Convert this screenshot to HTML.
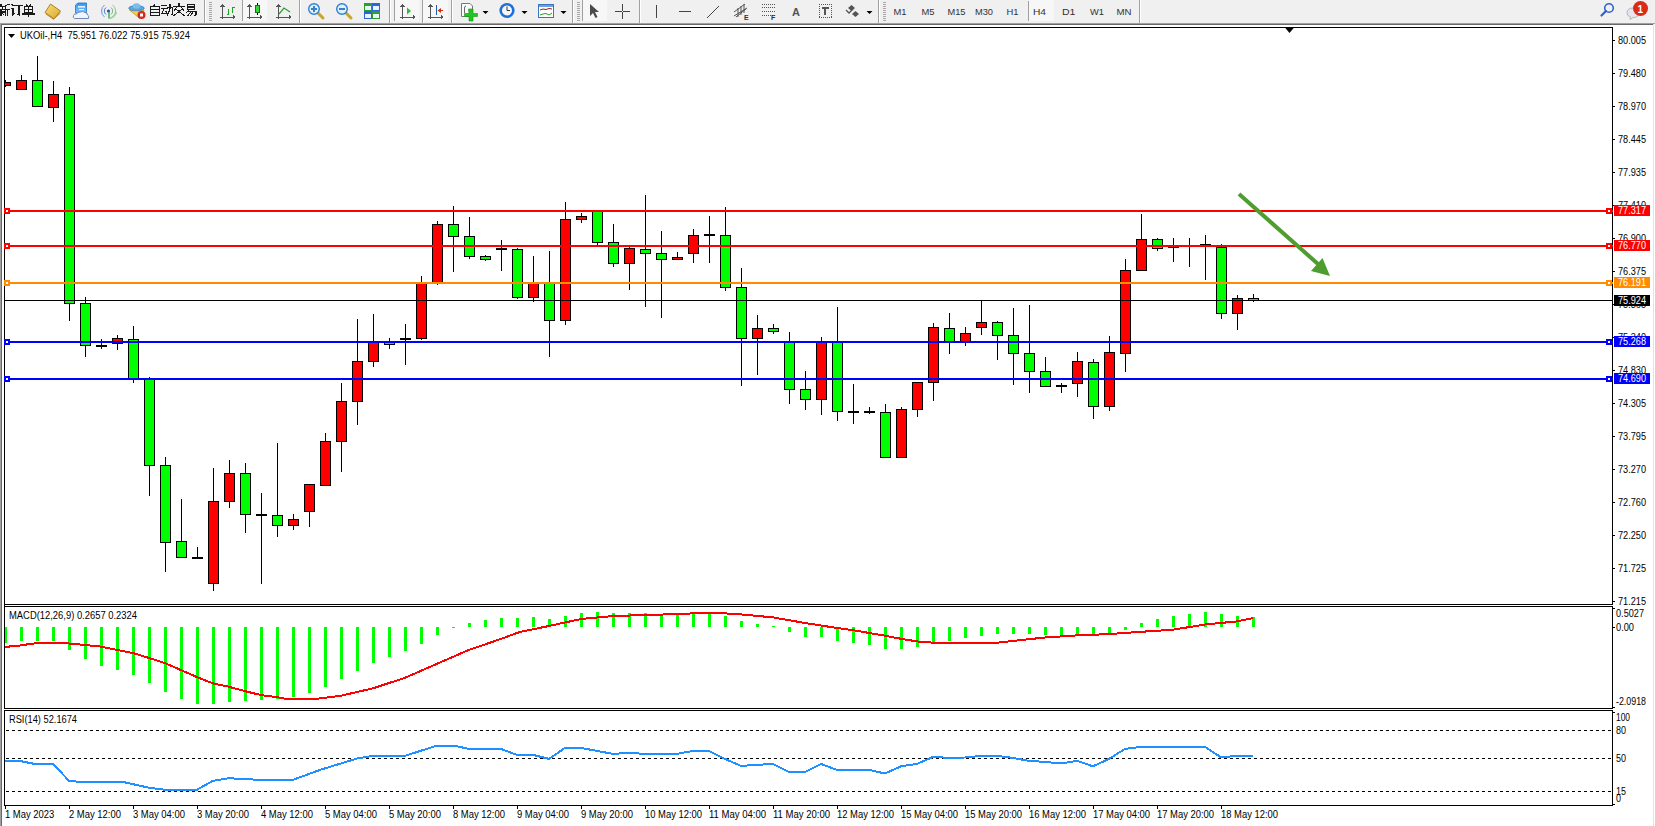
<!DOCTYPE html>
<html><head><meta charset="utf-8"><style>
html,body{margin:0;padding:0;}
body{width:1655px;height:826px;overflow:hidden;position:relative;background:#fff;font-family:"Liberation Sans",sans-serif;}
</style></head><body>
<svg width="1655" height="826" viewBox="0 0 1655 826" style="position:absolute;left:0;top:0;font-family:'Liberation Sans',sans-serif"><rect x="0" y="0" width="1655" height="23" fill="#F0F0F0"/><rect x="0" y="23" width="1655" height="1" fill="#A0A0A0"/><rect x="0" y="24" width="1653" height="1" fill="#696969"/><rect x="0" y="25" width="1655" height="801" fill="#FFFFFF"/><rect x="0" y="24" width="1" height="802" fill="#A0A0A0"/><rect x="1" y="24" width="1" height="802" fill="#696969"/><rect x="1653" y="24" width="1" height="802" fill="#E3E3E3"/><g shape-rendering="crispEdges"><rect x="4" y="27" width="1609" height="1" fill="#000"/><rect x="4" y="604" width="1609" height="1" fill="#000"/><rect x="4" y="606" width="1609" height="1" fill="#000"/><rect x="4" y="708" width="1609" height="1" fill="#000"/><rect x="4" y="710" width="1609" height="1" fill="#000"/><rect x="4" y="805" width="1609" height="1" fill="#000"/><rect x="4" y="27" width="1" height="579" fill="#000"/><rect x="4" y="606" width="1" height="103" fill="#000"/><rect x="4" y="710" width="1" height="96" fill="#000"/><rect x="1612" y="27" width="1" height="578" fill="#000"/><rect x="1612" y="606" width="1" height="103" fill="#000"/><rect x="1612" y="710" width="1" height="96" fill="#000"/><rect x="1613" y="608" width="2" height="1" fill="#000"/><rect x="1613" y="627" width="2" height="1" fill="#000"/><rect x="1613" y="707" width="2" height="1" fill="#000"/><rect x="1613" y="712" width="2" height="1" fill="#000"/><rect x="1613" y="804" width="2" height="1" fill="#000"/></g><polygon points="1284.5,27 1294.5,27 1289.5,33" fill="#000"/><g shape-rendering="crispEdges"><rect x="1613" y="40" width="2" height="1" fill="#000"/><rect x="1613" y="73" width="2" height="1" fill="#000"/><rect x="1613" y="106" width="2" height="1" fill="#000"/><rect x="1613" y="139" width="2" height="1" fill="#000"/><rect x="1613" y="172" width="2" height="1" fill="#000"/><rect x="1613" y="205" width="2" height="1" fill="#000"/><rect x="1613" y="238" width="2" height="1" fill="#000"/><rect x="1613" y="271" width="2" height="1" fill="#000"/><rect x="1613" y="304" width="2" height="1" fill="#000"/><rect x="1613" y="337" width="2" height="1" fill="#000"/><rect x="1613" y="370" width="2" height="1" fill="#000"/><rect x="1613" y="403" width="2" height="1" fill="#000"/><rect x="1613" y="436" width="2" height="1" fill="#000"/><rect x="1613" y="469" width="2" height="1" fill="#000"/><rect x="1613" y="502" width="2" height="1" fill="#000"/><rect x="1613" y="535" width="2" height="1" fill="#000"/><rect x="1613" y="568" width="2" height="1" fill="#000"/><rect x="1613" y="601" width="2" height="1" fill="#000"/><clipPath id="cm"><rect x="5" y="28" width="1607" height="576"/></clipPath><g clip-path="url(#cm)"><rect x="5" y="80" width="1" height="7" fill="#000"/><rect x="0" y="82" width="11" height="4" fill="#000"/><rect x="1" y="83" width="9" height="2" fill="#FF0000"/><rect x="21" y="75" width="1" height="15" fill="#000"/><rect x="16" y="80" width="11" height="10" fill="#000"/><rect x="17" y="81" width="9" height="8" fill="#FF0000"/><rect x="37" y="56" width="1" height="51" fill="#000"/><rect x="32" y="80" width="11" height="27" fill="#000"/><rect x="33" y="81" width="9" height="25" fill="#00FF00"/><rect x="53" y="81" width="1" height="41" fill="#000"/><rect x="48" y="94" width="11" height="14" fill="#000"/><rect x="49" y="95" width="9" height="12" fill="#FF0000"/><rect x="69" y="87" width="1" height="234" fill="#000"/><rect x="64" y="94" width="11" height="210" fill="#000"/><rect x="65" y="95" width="9" height="208" fill="#00FF00"/><rect x="85" y="297" width="1" height="60" fill="#000"/><rect x="80" y="303" width="11" height="43" fill="#000"/><rect x="81" y="304" width="9" height="41" fill="#00FF00"/><rect x="101" y="339" width="1" height="10" fill="#000"/><rect x="96" y="345" width="11" height="2" fill="#000"/><rect x="117" y="335" width="1" height="15" fill="#000"/><rect x="112" y="338" width="11" height="6" fill="#000"/><rect x="113" y="339" width="9" height="4" fill="#FF0000"/><rect x="133" y="326" width="1" height="57" fill="#000"/><rect x="128" y="339" width="11" height="40" fill="#000"/><rect x="129" y="340" width="9" height="38" fill="#00FF00"/><rect x="149" y="377" width="1" height="119" fill="#000"/><rect x="144" y="379" width="11" height="87" fill="#000"/><rect x="145" y="380" width="9" height="85" fill="#00FF00"/><rect x="165" y="457" width="1" height="115" fill="#000"/><rect x="160" y="465" width="11" height="78" fill="#000"/><rect x="161" y="466" width="9" height="76" fill="#00FF00"/><rect x="181" y="499" width="1" height="59" fill="#000"/><rect x="176" y="541" width="11" height="17" fill="#000"/><rect x="177" y="542" width="9" height="15" fill="#00FF00"/><rect x="197" y="547" width="1" height="12" fill="#000"/><rect x="192" y="557" width="11" height="2" fill="#000"/><rect x="213" y="468" width="1" height="123" fill="#000"/><rect x="208" y="501" width="11" height="83" fill="#000"/><rect x="209" y="502" width="9" height="81" fill="#FF0000"/><rect x="229" y="460" width="1" height="48" fill="#000"/><rect x="224" y="473" width="11" height="29" fill="#000"/><rect x="225" y="474" width="9" height="27" fill="#FF0000"/><rect x="245" y="463" width="1" height="70" fill="#000"/><rect x="240" y="473" width="11" height="42" fill="#000"/><rect x="241" y="474" width="9" height="40" fill="#00FF00"/><rect x="261" y="493" width="1" height="91" fill="#000"/><rect x="256" y="514" width="11" height="2" fill="#000"/><rect x="277" y="443" width="1" height="94" fill="#000"/><rect x="272" y="515" width="11" height="11" fill="#000"/><rect x="273" y="516" width="9" height="9" fill="#00FF00"/><rect x="293" y="514" width="1" height="16" fill="#000"/><rect x="288" y="519" width="11" height="7" fill="#000"/><rect x="289" y="520" width="9" height="5" fill="#FF0000"/><rect x="309" y="484" width="1" height="43" fill="#000"/><rect x="304" y="484" width="11" height="28" fill="#000"/><rect x="305" y="485" width="9" height="26" fill="#FF0000"/><rect x="325" y="433" width="1" height="53" fill="#000"/><rect x="320" y="441" width="11" height="45" fill="#000"/><rect x="321" y="442" width="9" height="43" fill="#FF0000"/><rect x="341" y="383" width="1" height="89" fill="#000"/><rect x="336" y="401" width="11" height="41" fill="#000"/><rect x="337" y="402" width="9" height="39" fill="#FF0000"/><rect x="357" y="319" width="1" height="106" fill="#000"/><rect x="352" y="361" width="11" height="41" fill="#000"/><rect x="353" y="362" width="9" height="39" fill="#FF0000"/><rect x="373" y="314" width="1" height="53" fill="#000"/><rect x="368" y="342" width="11" height="20" fill="#000"/><rect x="369" y="343" width="9" height="18" fill="#FF0000"/><rect x="389" y="338" width="1" height="11" fill="#000"/><rect x="384" y="342" width="11" height="3" fill="#000"/><rect x="385" y="343" width="9" height="1" fill="#00FF00"/><rect x="405" y="324" width="1" height="41" fill="#000"/><rect x="400" y="338" width="11" height="2" fill="#000"/><rect x="421" y="276" width="1" height="64" fill="#000"/><rect x="416" y="283" width="11" height="56" fill="#000"/><rect x="417" y="284" width="9" height="54" fill="#FF0000"/><rect x="437" y="221" width="1" height="64" fill="#000"/><rect x="432" y="224" width="11" height="59" fill="#000"/><rect x="433" y="225" width="9" height="57" fill="#FF0000"/><rect x="453" y="206" width="1" height="66" fill="#000"/><rect x="448" y="224" width="11" height="13" fill="#000"/><rect x="449" y="225" width="9" height="11" fill="#00FF00"/><rect x="469" y="217" width="1" height="42" fill="#000"/><rect x="464" y="236" width="11" height="21" fill="#000"/><rect x="465" y="237" width="9" height="19" fill="#00FF00"/><rect x="485" y="255" width="1" height="6" fill="#000"/><rect x="480" y="256" width="11" height="4" fill="#000"/><rect x="481" y="257" width="9" height="2" fill="#00FF00"/><rect x="501" y="240" width="1" height="31" fill="#000"/><rect x="496" y="248" width="11" height="2" fill="#000"/><rect x="517" y="248" width="1" height="51" fill="#000"/><rect x="512" y="249" width="11" height="49" fill="#000"/><rect x="513" y="250" width="9" height="47" fill="#00FF00"/><rect x="533" y="256" width="1" height="46" fill="#000"/><rect x="528" y="283" width="11" height="15" fill="#000"/><rect x="529" y="284" width="9" height="13" fill="#FF0000"/><rect x="549" y="251" width="1" height="106" fill="#000"/><rect x="544" y="283" width="11" height="38" fill="#000"/><rect x="545" y="284" width="9" height="36" fill="#00FF00"/><rect x="565" y="202" width="1" height="123" fill="#000"/><rect x="560" y="219" width="11" height="102" fill="#000"/><rect x="561" y="220" width="9" height="100" fill="#FF0000"/><rect x="581" y="213" width="1" height="10" fill="#000"/><rect x="576" y="216" width="11" height="4" fill="#000"/><rect x="577" y="217" width="9" height="2" fill="#FF0000"/><rect x="597" y="211" width="1" height="35" fill="#000"/><rect x="592" y="211" width="11" height="32" fill="#000"/><rect x="593" y="212" width="9" height="30" fill="#00FF00"/><rect x="613" y="224" width="1" height="43" fill="#000"/><rect x="608" y="242" width="11" height="22" fill="#000"/><rect x="609" y="243" width="9" height="20" fill="#00FF00"/><rect x="629" y="247" width="1" height="43" fill="#000"/><rect x="624" y="248" width="11" height="16" fill="#000"/><rect x="625" y="249" width="9" height="14" fill="#FF0000"/><rect x="645" y="195" width="1" height="112" fill="#000"/><rect x="640" y="249" width="11" height="5" fill="#000"/><rect x="641" y="250" width="9" height="3" fill="#00FF00"/><rect x="661" y="231" width="1" height="87" fill="#000"/><rect x="656" y="253" width="11" height="7" fill="#000"/><rect x="657" y="254" width="9" height="5" fill="#00FF00"/><rect x="677" y="252" width="1" height="8" fill="#000"/><rect x="672" y="257" width="11" height="3" fill="#000"/><rect x="673" y="258" width="9" height="1" fill="#FF0000"/><rect x="693" y="229" width="1" height="34" fill="#000"/><rect x="688" y="235" width="11" height="19" fill="#000"/><rect x="689" y="236" width="9" height="17" fill="#FF0000"/><rect x="709" y="216" width="1" height="47" fill="#000"/><rect x="704" y="234" width="11" height="2" fill="#000"/><rect x="725" y="207" width="1" height="84" fill="#000"/><rect x="720" y="235" width="11" height="53" fill="#000"/><rect x="721" y="236" width="9" height="51" fill="#00FF00"/><rect x="741" y="268" width="1" height="118" fill="#000"/><rect x="736" y="287" width="11" height="52" fill="#000"/><rect x="737" y="288" width="9" height="50" fill="#00FF00"/><rect x="757" y="315" width="1" height="60" fill="#000"/><rect x="752" y="328" width="11" height="11" fill="#000"/><rect x="753" y="329" width="9" height="9" fill="#FF0000"/><rect x="773" y="324" width="1" height="10" fill="#000"/><rect x="768" y="328" width="11" height="4" fill="#000"/><rect x="769" y="329" width="9" height="2" fill="#00FF00"/><rect x="789" y="332" width="1" height="72" fill="#000"/><rect x="784" y="342" width="11" height="48" fill="#000"/><rect x="785" y="343" width="9" height="46" fill="#00FF00"/><rect x="805" y="371" width="1" height="39" fill="#000"/><rect x="800" y="389" width="11" height="11" fill="#000"/><rect x="801" y="390" width="9" height="9" fill="#00FF00"/><rect x="821" y="337" width="1" height="78" fill="#000"/><rect x="816" y="342" width="11" height="58" fill="#000"/><rect x="817" y="343" width="9" height="56" fill="#FF0000"/><rect x="837" y="307" width="1" height="114" fill="#000"/><rect x="832" y="342" width="11" height="70" fill="#000"/><rect x="833" y="343" width="9" height="68" fill="#00FF00"/><rect x="853" y="384" width="1" height="40" fill="#000"/><rect x="848" y="411" width="11" height="2" fill="#000"/><rect x="869" y="407" width="1" height="7" fill="#000"/><rect x="864" y="411" width="11" height="2" fill="#000"/><rect x="885" y="404" width="1" height="54" fill="#000"/><rect x="880" y="412" width="11" height="46" fill="#000"/><rect x="881" y="413" width="9" height="44" fill="#00FF00"/><rect x="901" y="407" width="1" height="51" fill="#000"/><rect x="896" y="409" width="11" height="49" fill="#000"/><rect x="897" y="410" width="9" height="47" fill="#FF0000"/><rect x="917" y="382" width="1" height="35" fill="#000"/><rect x="912" y="382" width="11" height="28" fill="#000"/><rect x="913" y="383" width="9" height="26" fill="#FF0000"/><rect x="933" y="323" width="1" height="78" fill="#000"/><rect x="928" y="327" width="11" height="56" fill="#000"/><rect x="929" y="328" width="9" height="54" fill="#FF0000"/><rect x="949" y="313" width="1" height="41" fill="#000"/><rect x="944" y="328" width="11" height="14" fill="#000"/><rect x="945" y="329" width="9" height="12" fill="#00FF00"/><rect x="965" y="327" width="1" height="19" fill="#000"/><rect x="960" y="333" width="11" height="9" fill="#000"/><rect x="961" y="334" width="9" height="7" fill="#FF0000"/><rect x="981" y="301" width="1" height="34" fill="#000"/><rect x="976" y="322" width="11" height="6" fill="#000"/><rect x="977" y="323" width="9" height="4" fill="#FF0000"/><rect x="997" y="321" width="1" height="39" fill="#000"/><rect x="992" y="322" width="11" height="14" fill="#000"/><rect x="993" y="323" width="9" height="12" fill="#00FF00"/><rect x="1013" y="308" width="1" height="77" fill="#000"/><rect x="1008" y="335" width="11" height="19" fill="#000"/><rect x="1009" y="336" width="9" height="17" fill="#00FF00"/><rect x="1029" y="305" width="1" height="88" fill="#000"/><rect x="1024" y="353" width="11" height="19" fill="#000"/><rect x="1025" y="354" width="9" height="17" fill="#00FF00"/><rect x="1045" y="357" width="1" height="30" fill="#000"/><rect x="1040" y="371" width="11" height="16" fill="#000"/><rect x="1041" y="372" width="9" height="14" fill="#00FF00"/><rect x="1061" y="383" width="1" height="10" fill="#000"/><rect x="1056" y="385" width="11" height="2" fill="#000"/><rect x="1077" y="352" width="1" height="45" fill="#000"/><rect x="1072" y="361" width="11" height="23" fill="#000"/><rect x="1073" y="362" width="9" height="21" fill="#FF0000"/><rect x="1093" y="359" width="1" height="60" fill="#000"/><rect x="1088" y="362" width="11" height="45" fill="#000"/><rect x="1089" y="363" width="9" height="43" fill="#00FF00"/><rect x="1109" y="336" width="1" height="75" fill="#000"/><rect x="1104" y="352" width="11" height="55" fill="#000"/><rect x="1105" y="353" width="9" height="53" fill="#FF0000"/><rect x="1125" y="259" width="1" height="113" fill="#000"/><rect x="1120" y="270" width="11" height="84" fill="#000"/><rect x="1121" y="271" width="9" height="82" fill="#FF0000"/><rect x="1141" y="214" width="1" height="57" fill="#000"/><rect x="1136" y="239" width="11" height="32" fill="#000"/><rect x="1137" y="240" width="9" height="30" fill="#FF0000"/><rect x="1157" y="238" width="1" height="13" fill="#000"/><rect x="1152" y="239" width="11" height="10" fill="#000"/><rect x="1153" y="240" width="9" height="8" fill="#00FF00"/><rect x="1173" y="238" width="1" height="24" fill="#000"/><rect x="1168" y="246" width="11" height="2" fill="#000"/><rect x="1189" y="238" width="1" height="29" fill="#000"/><rect x="1184" y="245" width="11" height="2" fill="#000"/><rect x="1205" y="235" width="1" height="45" fill="#000"/><rect x="1200" y="244" width="11" height="2" fill="#000"/><rect x="1221" y="244" width="1" height="75" fill="#000"/><rect x="1216" y="247" width="11" height="67" fill="#000"/><rect x="1217" y="248" width="9" height="65" fill="#00FF00"/><rect x="1237" y="295" width="1" height="35" fill="#000"/><rect x="1232" y="298" width="11" height="16" fill="#000"/><rect x="1233" y="299" width="9" height="14" fill="#FF0000"/><rect x="1253" y="294" width="1" height="8" fill="#000"/><rect x="1248" y="298" width="11" height="3" fill="#000"/><rect x="1249" y="299" width="9" height="1" fill="#00FF00"/></g><rect x="5" y="210" width="1608" height="2" fill="#FF0000"/><rect x="4" y="208" width="6" height="6" fill="#FF0000"/><rect x="6" y="210" width="2" height="2" fill="#FFFFFF"/><rect x="1606" y="208" width="6" height="6" fill="#FF0000"/><rect x="1608" y="210" width="2" height="2" fill="#FFFFFF"/><rect x="5" y="245" width="1608" height="2" fill="#FF0000"/><rect x="4" y="243" width="6" height="6" fill="#FF0000"/><rect x="6" y="245" width="2" height="2" fill="#FFFFFF"/><rect x="1606" y="243" width="6" height="6" fill="#FF0000"/><rect x="1608" y="245" width="2" height="2" fill="#FFFFFF"/><rect x="5" y="282" width="1608" height="2" fill="#FF8C00"/><rect x="4" y="280" width="6" height="6" fill="#FF8C00"/><rect x="6" y="282" width="2" height="2" fill="#FFFFFF"/><rect x="1606" y="280" width="6" height="6" fill="#FF8C00"/><rect x="1608" y="282" width="2" height="2" fill="#FFFFFF"/><rect x="5" y="341" width="1608" height="2" fill="#0000FF"/><rect x="4" y="339" width="6" height="6" fill="#0000FF"/><rect x="6" y="341" width="2" height="2" fill="#FFFFFF"/><rect x="1606" y="339" width="6" height="6" fill="#0000FF"/><rect x="1608" y="341" width="2" height="2" fill="#FFFFFF"/><rect x="5" y="378" width="1608" height="2" fill="#0000FF"/><rect x="4" y="376" width="6" height="6" fill="#0000FF"/><rect x="6" y="378" width="2" height="2" fill="#FFFFFF"/><rect x="1606" y="376" width="6" height="6" fill="#0000FF"/><rect x="1608" y="378" width="2" height="2" fill="#FFFFFF"/><rect x="5" y="300" width="1607" height="1" fill="#000"/><clipPath id="cmacd"><rect x="5" y="607" width="1607" height="101"/></clipPath><g clip-path="url(#cmacd)"><rect x="5" y="627" width="2" height="16" fill="#00FF00"/><rect x="20" y="627" width="3" height="14" fill="#00FF00"/><rect x="36" y="627" width="3" height="14" fill="#00FF00"/><rect x="52" y="627" width="3" height="14" fill="#00FF00"/><rect x="68" y="627" width="3" height="23" fill="#00FF00"/><rect x="84" y="627" width="3" height="32" fill="#00FF00"/><rect x="100" y="627" width="3" height="39" fill="#00FF00"/><rect x="116" y="627" width="3" height="43" fill="#00FF00"/><rect x="132" y="627" width="3" height="48" fill="#00FF00"/><rect x="148" y="627" width="3" height="56" fill="#00FF00"/><rect x="164" y="627" width="3" height="65" fill="#00FF00"/><rect x="180" y="627" width="3" height="72" fill="#00FF00"/><rect x="196" y="627" width="3" height="77" fill="#00FF00"/><rect x="212" y="627" width="3" height="77" fill="#00FF00"/><rect x="228" y="627" width="3" height="75" fill="#00FF00"/><rect x="244" y="627" width="3" height="74" fill="#00FF00"/><rect x="260" y="627" width="3" height="73" fill="#00FF00"/><rect x="276" y="627" width="3" height="72" fill="#00FF00"/><rect x="292" y="627" width="3" height="70" fill="#00FF00"/><rect x="308" y="627" width="3" height="66" fill="#00FF00"/><rect x="324" y="627" width="3" height="60" fill="#00FF00"/><rect x="340" y="627" width="3" height="52" fill="#00FF00"/><rect x="356" y="627" width="3" height="44" fill="#00FF00"/><rect x="372" y="627" width="3" height="36" fill="#00FF00"/><rect x="388" y="627" width="3" height="30" fill="#00FF00"/><rect x="404" y="627" width="3" height="24" fill="#00FF00"/><rect x="420" y="627" width="3" height="17" fill="#00FF00"/><rect x="436" y="627" width="3" height="8" fill="#00FF00"/><rect x="452" y="627" width="3" height="1" fill="#00FF00"/><rect x="468" y="623" width="3" height="4" fill="#00FF00"/><rect x="484" y="620" width="3" height="7" fill="#00FF00"/><rect x="500" y="618" width="3" height="9" fill="#00FF00"/><rect x="516" y="618" width="3" height="9" fill="#00FF00"/><rect x="532" y="617" width="3" height="10" fill="#00FF00"/><rect x="548" y="619" width="3" height="8" fill="#00FF00"/><rect x="564" y="616" width="3" height="11" fill="#00FF00"/><rect x="580" y="613" width="3" height="14" fill="#00FF00"/><rect x="596" y="612" width="3" height="15" fill="#00FF00"/><rect x="612" y="613" width="3" height="14" fill="#00FF00"/><rect x="628" y="613" width="3" height="14" fill="#00FF00"/><rect x="644" y="613" width="3" height="14" fill="#00FF00"/><rect x="660" y="615" width="3" height="12" fill="#00FF00"/><rect x="676" y="615" width="3" height="12" fill="#00FF00"/><rect x="692" y="614" width="3" height="13" fill="#00FF00"/><rect x="708" y="614" width="3" height="13" fill="#00FF00"/><rect x="724" y="616" width="3" height="11" fill="#00FF00"/><rect x="740" y="621" width="3" height="6" fill="#00FF00"/><rect x="756" y="624" width="3" height="3" fill="#00FF00"/><rect x="772" y="626" width="3" height="1" fill="#00FF00"/><rect x="788" y="627" width="3" height="5" fill="#00FF00"/><rect x="804" y="627" width="3" height="10" fill="#00FF00"/><rect x="820" y="627" width="3" height="10" fill="#00FF00"/><rect x="836" y="627" width="3" height="14" fill="#00FF00"/><rect x="852" y="627" width="3" height="16" fill="#00FF00"/><rect x="868" y="627" width="3" height="18" fill="#00FF00"/><rect x="884" y="627" width="3" height="22" fill="#00FF00"/><rect x="900" y="627" width="3" height="22" fill="#00FF00"/><rect x="916" y="627" width="3" height="20" fill="#00FF00"/><rect x="932" y="627" width="3" height="16" fill="#00FF00"/><rect x="948" y="627" width="3" height="14" fill="#00FF00"/><rect x="964" y="627" width="3" height="11" fill="#00FF00"/><rect x="980" y="627" width="3" height="9" fill="#00FF00"/><rect x="996" y="627" width="3" height="7" fill="#00FF00"/><rect x="1012" y="627" width="3" height="7" fill="#00FF00"/><rect x="1028" y="627" width="3" height="7" fill="#00FF00"/><rect x="1044" y="627" width="3" height="8" fill="#00FF00"/><rect x="1060" y="627" width="3" height="9" fill="#00FF00"/><rect x="1076" y="627" width="3" height="9" fill="#00FF00"/><rect x="1092" y="627" width="3" height="9" fill="#00FF00"/><rect x="1108" y="627" width="3" height="7" fill="#00FF00"/><rect x="1124" y="627" width="3" height="3" fill="#00FF00"/><rect x="1140" y="623" width="3" height="4" fill="#00FF00"/><rect x="1156" y="619" width="3" height="8" fill="#00FF00"/><rect x="1172" y="616" width="3" height="11" fill="#00FF00"/><rect x="1188" y="614" width="3" height="13" fill="#00FF00"/><rect x="1204" y="612" width="3" height="15" fill="#00FF00"/><rect x="1220" y="614" width="3" height="13" fill="#00FF00"/><rect x="1236" y="616" width="3" height="11" fill="#00FF00"/><rect x="1252" y="617" width="3" height="10" fill="#00FF00"/></g></g><g clip-path="url(#cmacd)" shape-rendering="crispEdges"><polyline points="5,646.9 13,646.2 21,645.4 29,644.1 38,643 53,643 69,643.5 85,645 101,646.6 117,650 133,653 149,658 165,663.1 181,670.1 197,677.1 213,683.4 229,686.8 245,691.1 261,695.1 277,697.1 285,698.7 317,698.7 341,695.7 373,688.3 405,677.8 437,663.8 469,649.9 501,638.9 520,631.9 549,626 581,619 613,616 661,614.6 693,613.4 725,613.4 741,614.4 773,617.4 805,623 837,628 853,630.2 885,635.7 901,638.8 917,641.4 933,642.7 997,642.7 1013,640.9 1045,637.5 1077,635.4 1109,634.1 1141,631.8 1173,629.7 1205,624.5 1237,621.4 1253,618" fill="none" stroke="#FF0000" stroke-width="2" stroke-linejoin="round"/></g><g shape-rendering="crispEdges"><line x1="6" y1="730.5" x2="1612" y2="730.5" stroke="#000" stroke-width="1" stroke-dasharray="3,3"/><line x1="6" y1="758.5" x2="1612" y2="758.5" stroke="#000" stroke-width="1" stroke-dasharray="3,3"/><line x1="6" y1="791.5" x2="1612" y2="791.5" stroke="#000" stroke-width="1" stroke-dasharray="3,3"/></g><clipPath id="crsi"><rect x="5" y="711" width="1607" height="94"/></clipPath><g clip-path="url(#crsi)" shape-rendering="crispEdges"><polyline points="5,761.2 21,761.2 37,764.4 45,764.4 53,763.8 69,780.8 77,781.6 125,782.4 149,787.7 165,789.7 197,789.7 213,780.8 229,778.2 245,779.2 261,779.8 293,779.8 320,769.9 357,758.5 373,755.9 405,755.9 437,745.5 453,745.5 469,748.9 501,748.9 517,754.9 533,754.9 549,758.9 565,747.9 581,747.9 613,753.9 629,752.9 645,753.9 677,753.9 693,750.9 709,750.9 725,758.9 741,765.9 757,764.9 773,763.9 789,771.9 805,771.9 821,763.9 837,769.9 869,769.9 885,773.5 901,766.3 917,763.9 933,756.9 949,757.9 965,757.5 981,755.9 997,755.9 1013,757.9 1029,760.9 1045,761.9 1061,763.5 1077,760.9 1093,766.3 1109,758.9 1125,748.9 1141,746.9 1205,746.9 1221,757.3 1237,755.9 1253,755.9" fill="none" stroke="#1E90FF" stroke-width="2" stroke-linejoin="round"/></g><g shape-rendering="crispEdges"><rect x="5" y="806" width="1" height="3" fill="#000"/><rect x="69" y="806" width="1" height="3" fill="#000"/><rect x="133" y="806" width="1" height="3" fill="#000"/><rect x="197" y="806" width="1" height="3" fill="#000"/><rect x="261" y="806" width="1" height="3" fill="#000"/><rect x="325" y="806" width="1" height="3" fill="#000"/><rect x="389" y="806" width="1" height="3" fill="#000"/><rect x="453" y="806" width="1" height="3" fill="#000"/><rect x="517" y="806" width="1" height="3" fill="#000"/><rect x="581" y="806" width="1" height="3" fill="#000"/><rect x="645" y="806" width="1" height="3" fill="#000"/><rect x="709" y="806" width="1" height="3" fill="#000"/><rect x="773" y="806" width="1" height="3" fill="#000"/><rect x="837" y="806" width="1" height="3" fill="#000"/><rect x="901" y="806" width="1" height="3" fill="#000"/><rect x="965" y="806" width="1" height="3" fill="#000"/><rect x="1029" y="806" width="1" height="3" fill="#000"/><rect x="1093" y="806" width="1" height="3" fill="#000"/><rect x="1157" y="806" width="1" height="3" fill="#000"/><rect x="1221" y="806" width="1" height="3" fill="#000"/></g><line x1="1239" y1="194" x2="1318" y2="264" stroke="#4F9D2F" stroke-width="4"/><polygon points="1330,276 1311,271 1322.5,258" fill="#4F9D2F"/><g><polygon points="8,34 15,34 11.5,38" fill="#000"/><text x="20" y="39" font-size="10" fill="#000" textLength="170" lengthAdjust="spacingAndGlyphs">UKOil-,H4&#160; 75.951 76.022 75.915 75.924</text><text x="9" y="619" font-size="10" fill="#000" textLength="128" lengthAdjust="spacingAndGlyphs">MACD(12,26,9) 0.2657 0.2324</text><text x="9" y="723" font-size="10" fill="#000" textLength="68" lengthAdjust="spacingAndGlyphs">RSI(14) 52.1674</text><text x="1618" y="44" font-size="10" fill="#000" textLength="28" lengthAdjust="spacingAndGlyphs">80.005</text><text x="1618" y="77" font-size="10" fill="#000" textLength="28" lengthAdjust="spacingAndGlyphs">79.480</text><text x="1618" y="110" font-size="10" fill="#000" textLength="28" lengthAdjust="spacingAndGlyphs">78.970</text><text x="1618" y="143" font-size="10" fill="#000" textLength="28" lengthAdjust="spacingAndGlyphs">78.445</text><text x="1618" y="176" font-size="10" fill="#000" textLength="28" lengthAdjust="spacingAndGlyphs">77.935</text><text x="1618" y="209" font-size="10" fill="#000" textLength="28" lengthAdjust="spacingAndGlyphs">77.410</text><text x="1618" y="242" font-size="10" fill="#000" textLength="28" lengthAdjust="spacingAndGlyphs">76.900</text><text x="1618" y="275" font-size="10" fill="#000" textLength="28" lengthAdjust="spacingAndGlyphs">76.375</text><text x="1618" y="308" font-size="10" fill="#000" textLength="28" lengthAdjust="spacingAndGlyphs">75.865</text><text x="1618" y="341" font-size="10" fill="#000" textLength="28" lengthAdjust="spacingAndGlyphs">75.340</text><text x="1618" y="374" font-size="10" fill="#000" textLength="28" lengthAdjust="spacingAndGlyphs">74.830</text><text x="1618" y="407" font-size="10" fill="#000" textLength="28" lengthAdjust="spacingAndGlyphs">74.305</text><text x="1618" y="440" font-size="10" fill="#000" textLength="28" lengthAdjust="spacingAndGlyphs">73.795</text><text x="1618" y="473" font-size="10" fill="#000" textLength="28" lengthAdjust="spacingAndGlyphs">73.270</text><text x="1618" y="506" font-size="10" fill="#000" textLength="28" lengthAdjust="spacingAndGlyphs">72.760</text><text x="1618" y="539" font-size="10" fill="#000" textLength="28" lengthAdjust="spacingAndGlyphs">72.250</text><text x="1618" y="572" font-size="10" fill="#000" textLength="28" lengthAdjust="spacingAndGlyphs">71.725</text><text x="1618" y="605" font-size="10" fill="#000" textLength="28" lengthAdjust="spacingAndGlyphs">71.215</text><g shape-rendering="crispEdges"><rect x="1614" y="205" width="36" height="11" fill="#FF0000"/><text x="1618" y="214" font-size="10" fill="#FFF" textLength="28" lengthAdjust="spacingAndGlyphs">77.317</text><rect x="1614" y="240" width="36" height="11" fill="#FF0000"/><text x="1618" y="249" font-size="10" fill="#FFF" textLength="28" lengthAdjust="spacingAndGlyphs">76.770</text><rect x="1614" y="277" width="36" height="11" fill="#FF8C00"/><text x="1618" y="286" font-size="10" fill="#FFF" textLength="28" lengthAdjust="spacingAndGlyphs">76.191</text><rect x="1614" y="295" width="36" height="11" fill="#000"/><text x="1618" y="304" font-size="10" fill="#FFF" textLength="28" lengthAdjust="spacingAndGlyphs">75.924</text><rect x="1614" y="336" width="36" height="11" fill="#0000FF"/><text x="1618" y="345" font-size="10" fill="#FFF" textLength="28" lengthAdjust="spacingAndGlyphs">75.268</text><rect x="1614" y="373" width="36" height="11" fill="#0000FF"/><text x="1618" y="382" font-size="10" fill="#FFF" textLength="28" lengthAdjust="spacingAndGlyphs">74.690</text></g><text x="1616" y="617" font-size="10" fill="#000" textLength="28" lengthAdjust="spacingAndGlyphs">0.5027</text><text x="1616" y="631" font-size="10" fill="#000" textLength="18" lengthAdjust="spacingAndGlyphs">0.00</text><text x="1616" y="705" font-size="10" fill="#000" textLength="30" lengthAdjust="spacingAndGlyphs">-2.0918</text><text x="1616" y="721" font-size="10" fill="#000" textLength="14" lengthAdjust="spacingAndGlyphs">100</text><text x="1616" y="734" font-size="10" fill="#000" textLength="10" lengthAdjust="spacingAndGlyphs">80</text><text x="1616" y="762" font-size="10" fill="#000" textLength="10" lengthAdjust="spacingAndGlyphs">50</text><text x="1616" y="795" font-size="10" fill="#000" textLength="10" lengthAdjust="spacingAndGlyphs">15</text><text x="1616" y="802" font-size="10" fill="#000" textLength="5" lengthAdjust="spacingAndGlyphs">0</text><text x="5" y="818" font-size="10" fill="#000" textLength="49.3" lengthAdjust="spacingAndGlyphs">1 May 2023</text><text x="69" y="818" font-size="10" fill="#000" textLength="51.9" lengthAdjust="spacingAndGlyphs">2 May 12:00</text><text x="133" y="818" font-size="10" fill="#000" textLength="51.9" lengthAdjust="spacingAndGlyphs">3 May 04:00</text><text x="197" y="818" font-size="10" fill="#000" textLength="51.9" lengthAdjust="spacingAndGlyphs">3 May 20:00</text><text x="261" y="818" font-size="10" fill="#000" textLength="51.9" lengthAdjust="spacingAndGlyphs">4 May 12:00</text><text x="325" y="818" font-size="10" fill="#000" textLength="51.9" lengthAdjust="spacingAndGlyphs">5 May 04:00</text><text x="389" y="818" font-size="10" fill="#000" textLength="51.9" lengthAdjust="spacingAndGlyphs">5 May 20:00</text><text x="453" y="818" font-size="10" fill="#000" textLength="51.9" lengthAdjust="spacingAndGlyphs">8 May 12:00</text><text x="517" y="818" font-size="10" fill="#000" textLength="51.9" lengthAdjust="spacingAndGlyphs">9 May 04:00</text><text x="581" y="818" font-size="10" fill="#000" textLength="51.9" lengthAdjust="spacingAndGlyphs">9 May 20:00</text><text x="645" y="818" font-size="10" fill="#000" textLength="57.1" lengthAdjust="spacingAndGlyphs">10 May 12:00</text><text x="709" y="818" font-size="10" fill="#000" textLength="57.1" lengthAdjust="spacingAndGlyphs">11 May 04:00</text><text x="773" y="818" font-size="10" fill="#000" textLength="57.1" lengthAdjust="spacingAndGlyphs">11 May 20:00</text><text x="837" y="818" font-size="10" fill="#000" textLength="57.1" lengthAdjust="spacingAndGlyphs">12 May 12:00</text><text x="901" y="818" font-size="10" fill="#000" textLength="57.1" lengthAdjust="spacingAndGlyphs">15 May 04:00</text><text x="965" y="818" font-size="10" fill="#000" textLength="57.1" lengthAdjust="spacingAndGlyphs">15 May 20:00</text><text x="1029" y="818" font-size="10" fill="#000" textLength="57.1" lengthAdjust="spacingAndGlyphs">16 May 12:00</text><text x="1093" y="818" font-size="10" fill="#000" textLength="57.1" lengthAdjust="spacingAndGlyphs">17 May 04:00</text><text x="1157" y="818" font-size="10" fill="#000" textLength="57.1" lengthAdjust="spacingAndGlyphs">17 May 20:00</text><text x="1221" y="818" font-size="10" fill="#000" textLength="57.1" lengthAdjust="spacingAndGlyphs">18 May 12:00</text></g><g shape-rendering="crispEdges"><path transform="translate(-3,4)" d="M4,0.5 V1.5 M1,2.5 H7 M2.5,3.5 L3,5 M5.5,3.5 L5,5 M0.5,5.5 H7.5 M0.5,8 H7.5 M4,5.5 V11.5 M4,8 L1,11 M4,8 L7,11 M12,0.5 L8.5,1.5 V11.5 M8.5,5.5 H12.5 M10.5,5.5 V11.5" stroke="#1a1a1a" stroke-width="1.1" fill="none" stroke-linecap="square"/><path transform="translate(11,4)" d="M1,0.5 L2,1.5 M0.5,4.5 H2 V10.5 L3,9.5 M4,1.5 H11.5 M8,1.5 V11 L6.5,10.5" stroke="#1a1a1a" stroke-width="1.1" fill="none" stroke-linecap="square"/><path transform="translate(23,4)" d="M3,0 L4,1.5 M8,0 L7,1.5 M1.5,2.5 H9.5 V8.5 H1.5 Z M1.5,5.5 H9.5 M5.5,2.5 V12 M0,10 H11" stroke="#1a1a1a" stroke-width="1.1" fill="none" stroke-linecap="square"/></g><defs><linearGradient id="gbook" x1="0" y1="0" x2="1" y2="1"><stop offset="0" stop-color="#F8E07A"/><stop offset="1" stop-color="#D9A82A"/></linearGradient><linearGradient id="gsrv" x1="0" y1="0" x2="0" y2="1"><stop offset="0" stop-color="#2E9BF5"/><stop offset="1" stop-color="#7CC4FF"/></linearGradient></defs><polygon points="45,12.5 50.5,4 60.5,11 54,18.8" fill="url(#gbook)" stroke="#A8741A" stroke-width="0.9"/><polyline points="46,14 53.5,19.2 60.5,13" fill="none" stroke="#B8862A" stroke-width="1"/><polygon points="75.5,5 78,3 86.5,3 86.5,13 75.5,13" fill="url(#gsrv)" stroke="#2A72C8" stroke-width="0.8"/><rect x="78" y="6" width="7" height="1.6" fill="#E6F3FF"/><rect x="79" y="9" width="5" height="1.2" fill="#E6F3FF"/><path d="M74.5,18.5 Q72.5,17.5 73.5,15.5 Q74,13.5 76.5,14 Q77.5,11.5 80.5,12 Q82.5,10.5 85,12.5 Q87.5,12.5 87.5,15 Q89.5,15.5 88.5,18.5 Z" fill="#F2F5FB" stroke="#5E7DB2" stroke-width="0.9"/><path d="M104.5,5 A7.5,7.5 0 0 0 104.5,17" fill="none" stroke="#6F95DC" stroke-width="1"/><path d="M112.5,5 A7.5,7.5 0 0 1 112.5,17" fill="none" stroke="#8DBF8F" stroke-width="1"/><path d="M106,7.5 A4.5,4.5 0 0 0 106,14.5" fill="none" stroke="#4F7FD6" stroke-width="1"/><path d="M111,7.5 A4.5,4.5 0 0 1 111,14.5" fill="none" stroke="#7DB880" stroke-width="1"/><circle cx="108.5" cy="11" r="1.6" fill="#1F4FC0"/><path d="M109,11.5 V18.5" fill="none" stroke="#2DA43A" stroke-width="1.3"/><path d="M109,18.5 Q114.5,17.5 116.5,12" fill="none" stroke="#9CCB9C" stroke-width="1.5"/><path d="M129.5,10 L144,10 L140,18.5 Z" fill="#F2D24A" stroke="#B8962A" stroke-width="0.8"/><ellipse cx="136.5" cy="8.2" rx="7.8" ry="2.6" fill="#5AA6E2" stroke="#3A7CC0" stroke-width="0.7"/><ellipse cx="136.5" cy="6" rx="3.8" ry="2.8" fill="#7DBDEE"/><circle cx="141.5" cy="15" r="4" fill="#D8281C"/><rect x="140" y="13.5" width="3" height="3" fill="#FFFFFF"/><g shape-rendering="crispEdges"><path transform="translate(149,4)" d="M6,0 L5,1.5 M1.5,2.5 H10.5 V11.5 H1.5 Z M1.5,5.5 H10.5 M1.5,8.5 H10.5" stroke="#1a1a1a" stroke-width="1.1" fill="none" stroke-linecap="square"/><path transform="translate(161,4)" d="M1,1.5 H5.5 M0.5,4.5 H6 M3,4.5 L1,9.5 H6 M5,7.5 L6,10 M7,3.5 H11.5 V10.5 L10,11 M9,0.5 V5 L6.5,11.5" stroke="#1a1a1a" stroke-width="1.1" fill="none" stroke-linecap="square"/><path transform="translate(173,4)" d="M6,0 V1.5 M0.5,2.5 H11.5 M3.5,3.5 L1.5,6 M8.5,3.5 L10.5,6 M8.5,5.5 L1,11.5 M3.5,5.5 L11,11.5" stroke="#1a1a1a" stroke-width="1.1" fill="none" stroke-linecap="square"/><path transform="translate(185,4)" d="M2.5,0.5 H9.5 V5.5 H2.5 Z M2.5,3 H9.5 M4,6 L1,9 M3,7.5 H11 V11 L9.5,11.5 M6,7.5 L3,11.5 M8.5,7.5 L5.5,11.5" stroke="#1a1a1a" stroke-width="1.1" fill="none" stroke-linecap="square"/><rect x="204" y="0" width="1" height="23" fill="#A0A0A0"/><rect x="205" y="0" width="1" height="23" fill="#FFFFFF"/><rect x="209" y="2" width="3" height="1" fill="#A8A8A8"/><rect x="209" y="4" width="3" height="1" fill="#A8A8A8"/><rect x="209" y="6" width="3" height="1" fill="#A8A8A8"/><rect x="209" y="8" width="3" height="1" fill="#A8A8A8"/><rect x="209" y="10" width="3" height="1" fill="#A8A8A8"/><rect x="209" y="12" width="3" height="1" fill="#A8A8A8"/><rect x="209" y="14" width="3" height="1" fill="#A8A8A8"/><rect x="209" y="16" width="3" height="1" fill="#A8A8A8"/><rect x="209" y="18" width="3" height="1" fill="#A8A8A8"/><rect x="209" y="20" width="3" height="1" fill="#A8A8A8"/><rect x="222" y="5" width="1" height="14" fill="#555555"/><polygon points="220,7 225,7 222.5,4" fill="#555555"/><rect x="220" y="17" width="14" height="1" fill="#555555"/><polygon points="233,14.5 233,19.5 236,17" fill="#555555"/><rect x="228" y="9" width="1" height="6" fill="#1FA61F"/><rect x="227" y="14" width="1" height="1" fill="#1FA61F"/><rect x="232" y="7" width="1" height="6" fill="#1FA61F"/><rect x="233" y="7" width="2" height="1" fill="#1FA61F"/><rect x="242" y="0" width="25" height="21" fill="#F7F7F7"/><rect x="242" y="0" width="1" height="21" fill="#A0A0A0"/><rect x="249" y="5" width="1" height="14" fill="#555555"/><polygon points="247,7 252,7 249.5,4" fill="#555555"/><rect x="247" y="17" width="14" height="1" fill="#555555"/><polygon points="260,14.5 260,19.5 263,17" fill="#555555"/><rect x="257" y="3" width="1" height="12" fill="#000"/><rect x="255" y="5" width="5" height="8" fill="#0A7A0A"/><rect x="256" y="6" width="3" height="6" fill="#36D636"/><rect x="278" y="5" width="1" height="14" fill="#555555"/><polygon points="276,7 281,7 278.5,4" fill="#555555"/><rect x="276" y="17" width="14" height="1" fill="#555555"/><polygon points="289,14.5 289,19.5 292,17" fill="#555555"/></g><polyline points="279,14 284,8 290,12" fill="none" stroke="#2CA02C" stroke-width="1.2"/><g shape-rendering="crispEdges"><rect x="299" y="0" width="1" height="23" fill="#A0A0A0"/><rect x="300" y="0" width="1" height="23" fill="#FFFFFF"/></g><line x1="318" y1="13" x2="323" y2="18" stroke="#C9A528" stroke-width="3" stroke-linecap="round"/><circle cx="314" cy="9" r="5.3" fill="#DDF1FB" stroke="#2F7FD0" stroke-width="1.4"/><rect x="311" y="8" width="6" height="2" fill="#3A7FC8"/><rect x="313" y="6" width="2" height="6" fill="#3A7FC8"/><line x1="346" y1="13" x2="351" y2="18" stroke="#C9A528" stroke-width="3" stroke-linecap="round"/><circle cx="342" cy="9" r="5.3" fill="#DDF1FB" stroke="#2F7FD0" stroke-width="1.4"/><rect x="339" y="8" width="6" height="2" fill="#3A7FC8"/><g shape-rendering="crispEdges"><rect x="364" y="3" width="8" height="8" fill="#2E9E2E"/><rect x="372" y="3" width="8" height="8" fill="#2F63D8"/><rect x="364" y="11" width="8" height="8" fill="#2F63D8"/><rect x="372" y="11" width="8" height="8" fill="#2E9E2E"/><rect x="365" y="6" width="6" height="4" fill="#E8F3FF"/><rect x="373" y="6" width="6" height="4" fill="#E8F3FF"/><rect x="365" y="14" width="6" height="4" fill="#E8F3FF"/><rect x="373" y="14" width="6" height="4" fill="#E8F3FF"/><rect x="389" y="0" width="1" height="23" fill="#A0A0A0"/><rect x="390" y="0" width="1" height="23" fill="#FFFFFF"/><rect x="394" y="0" width="25" height="21" fill="#F7F7F7"/><rect x="394" y="0" width="1" height="21" fill="#A0A0A0"/><rect x="402" y="5" width="1" height="14" fill="#555555"/><polygon points="400,7 405,7 402.5,4" fill="#555555"/><rect x="400" y="17" width="14" height="1" fill="#555555"/><polygon points="413,14.5 413,19.5 416,17" fill="#555555"/></g><polygon points="407,7.5 407,14.5 411,11" fill="#2DBE2D"/><g shape-rendering="crispEdges"><rect x="422" y="0" width="1" height="23" fill="#A0A0A0"/><rect x="423" y="0" width="1" height="23" fill="#FFFFFF"/><rect x="423" y="0" width="25" height="21" fill="#F7F7F7"/><rect x="430" y="5" width="1" height="14" fill="#555555"/><polygon points="428,7 433,7 430.5,4" fill="#555555"/><rect x="428" y="17" width="14" height="1" fill="#555555"/><polygon points="441,14.5 441,19.5 444,17" fill="#555555"/><rect x="436" y="5" width="1" height="10" fill="#1E5CB0"/></g><polygon points="437.5,10.5 441,8 441,13" fill="#D03010"/><rect x="440" y="10" width="3" height="1" fill="#D03010"/><g shape-rendering="crispEdges"><rect x="451" y="0" width="1" height="23" fill="#A0A0A0"/><rect x="452" y="0" width="1" height="23" fill="#FFFFFF"/></g><path d="M461.5,3.5 H470 L472.5,6 V16.5 H461.5 Z" fill="#FAFAFA" stroke="#777" stroke-width="1"/><path d="M466,6 Q464.5,6 464.5,8 V13" fill="none" stroke="#444" stroke-width="0.8"/><path d="M468.5,9 H473 V13.5 H477.5 V16.5 H473 V21 H469 V16.5 H464.5 V13.5 H469 Z" fill="#22C422" stroke="#149414" stroke-width="0.6"/><polygon points="482.5,11 488.5,11 485.5,14" fill="#000"/><circle cx="507" cy="10.5" r="7.6" fill="#1F6FD6"/><circle cx="507" cy="10.5" r="5" fill="#F4F8FC"/><path d="M507,6.5 V10.5 H510" fill="none" stroke="#333" stroke-width="1"/><polygon points="521.5,11 527.5,11 524.5,14" fill="#000"/><rect x="538.5" y="4.5" width="15" height="13" fill="#FFFFFF" stroke="#3A72C4" stroke-width="1"/><rect x="539" y="5" width="14" height="2" fill="#6EA0E0"/><polyline points="540,10 543,9 546,9.5 549,8.5 552,9" fill="none" stroke="#A02010" stroke-width="1"/><polyline points="540,15 543,14 546,13.5 549,15 552,13" fill="none" stroke="#20A020" stroke-width="1"/><polygon points="560.5,11 566.5,11 563.5,14" fill="#000"/><g shape-rendering="crispEdges"><rect x="572" y="0" width="1" height="23" fill="#A0A0A0"/><rect x="573" y="0" width="1" height="23" fill="#FFFFFF"/><rect x="577" y="2" width="3" height="1" fill="#A8A8A8"/><rect x="577" y="4" width="3" height="1" fill="#A8A8A8"/><rect x="577" y="6" width="3" height="1" fill="#A8A8A8"/><rect x="577" y="8" width="3" height="1" fill="#A8A8A8"/><rect x="577" y="10" width="3" height="1" fill="#A8A8A8"/><rect x="577" y="12" width="3" height="1" fill="#A8A8A8"/><rect x="577" y="14" width="3" height="1" fill="#A8A8A8"/><rect x="577" y="16" width="3" height="1" fill="#A8A8A8"/><rect x="577" y="18" width="3" height="1" fill="#A8A8A8"/><rect x="577" y="20" width="3" height="1" fill="#A8A8A8"/><rect x="582" y="0" width="25" height="21" fill="#F7F7F7"/><rect x="582" y="0" width="1" height="21" fill="#A0A0A0"/></g><polygon points="590,4 590,16 593,13 595.5,18 597.5,17 595,12 599,12" fill="#4A4A4A"/><g shape-rendering="crispEdges"><rect x="615" y="11" width="7" height="1" fill="#444"/><rect x="623" y="11" width="7" height="1" fill="#444"/><rect x="622" y="4" width="1" height="7" fill="#444"/><rect x="622" y="12" width="1" height="7" fill="#444"/><rect x="639" y="0" width="1" height="23" fill="#A0A0A0"/><rect x="640" y="0" width="1" height="23" fill="#FFFFFF"/><rect x="656" y="5" width="1" height="13" fill="#444"/><rect x="679" y="11" width="12" height="1" fill="#444"/></g><line x1="707" y1="18" x2="719" y2="6" stroke="#444" stroke-width="1"/><g stroke="#555" stroke-width="1"><line x1="734" y1="12" x2="745" y2="4"/><line x1="734" y1="16" x2="747" y2="8"/><line x1="736" y1="17" x2="746" y2="9"/><line x1="738" y1="8" x2="738" y2="17"/><line x1="741" y1="6" x2="741" y2="15"/><line x1="744" y1="4" x2="744" y2="13"/></g><text x="744" y="20" font-size="7" font-weight="bold" fill="#333">E</text><g shape-rendering="crispEdges"><rect x="762" y="4" width="1" height="1" fill="#555"/><rect x="764" y="4" width="1" height="1" fill="#555"/><rect x="766" y="4" width="1" height="1" fill="#555"/><rect x="768" y="4" width="1" height="1" fill="#555"/><rect x="770" y="4" width="1" height="1" fill="#555"/><rect x="772" y="4" width="1" height="1" fill="#555"/><rect x="774" y="4" width="1" height="1" fill="#555"/><rect x="762" y="7" width="1" height="1" fill="#555"/><rect x="764" y="7" width="1" height="1" fill="#555"/><rect x="766" y="7" width="1" height="1" fill="#555"/><rect x="768" y="7" width="1" height="1" fill="#555"/><rect x="770" y="7" width="1" height="1" fill="#555"/><rect x="772" y="7" width="1" height="1" fill="#555"/><rect x="774" y="7" width="1" height="1" fill="#555"/><rect x="762" y="11" width="1" height="1" fill="#555"/><rect x="764" y="11" width="1" height="1" fill="#555"/><rect x="766" y="11" width="1" height="1" fill="#555"/><rect x="768" y="11" width="1" height="1" fill="#555"/><rect x="770" y="11" width="1" height="1" fill="#555"/><rect x="772" y="11" width="1" height="1" fill="#555"/><rect x="774" y="11" width="1" height="1" fill="#555"/><rect x="762" y="15" width="1" height="1" fill="#555"/><rect x="764" y="15" width="1" height="1" fill="#555"/><rect x="766" y="15" width="1" height="1" fill="#555"/><rect x="768" y="15" width="1" height="1" fill="#555"/><rect x="770" y="15" width="1" height="1" fill="#555"/><rect x="772" y="15" width="1" height="1" fill="#555"/><rect x="774" y="15" width="1" height="1" fill="#555"/></g><text x="771" y="20" font-size="7" font-weight="bold" fill="#333">F</text><text x="792" y="16" font-size="11" font-weight="bold" fill="#555">A</text><g shape-rendering="crispEdges"><rect x="819" y="4" width="1" height="1" fill="#555"/><rect x="819" y="17" width="1" height="1" fill="#555"/><rect x="821" y="4" width="1" height="1" fill="#555"/><rect x="821" y="17" width="1" height="1" fill="#555"/><rect x="823" y="4" width="1" height="1" fill="#555"/><rect x="823" y="17" width="1" height="1" fill="#555"/><rect x="825" y="4" width="1" height="1" fill="#555"/><rect x="825" y="17" width="1" height="1" fill="#555"/><rect x="827" y="4" width="1" height="1" fill="#555"/><rect x="827" y="17" width="1" height="1" fill="#555"/><rect x="829" y="4" width="1" height="1" fill="#555"/><rect x="829" y="17" width="1" height="1" fill="#555"/><rect x="831" y="4" width="1" height="1" fill="#555"/><rect x="831" y="17" width="1" height="1" fill="#555"/><rect x="819" y="4" width="1" height="1" fill="#555"/><rect x="831" y="4" width="1" height="1" fill="#555"/><rect x="819" y="6" width="1" height="1" fill="#555"/><rect x="831" y="6" width="1" height="1" fill="#555"/><rect x="819" y="8" width="1" height="1" fill="#555"/><rect x="831" y="8" width="1" height="1" fill="#555"/><rect x="819" y="10" width="1" height="1" fill="#555"/><rect x="831" y="10" width="1" height="1" fill="#555"/><rect x="819" y="12" width="1" height="1" fill="#555"/><rect x="831" y="12" width="1" height="1" fill="#555"/><rect x="819" y="14" width="1" height="1" fill="#555"/><rect x="831" y="14" width="1" height="1" fill="#555"/><rect x="819" y="16" width="1" height="1" fill="#555"/><rect x="831" y="16" width="1" height="1" fill="#555"/><rect x="822" y="7" width="7" height="2" fill="#555"/><rect x="824" y="7" width="2" height="8" fill="#555"/></g><polygon points="848,8 851.5,5 855,8 851.5,11" fill="#555"/><polygon points="852,14 855.5,11 859,14 855.5,17" fill="#555"/><polyline points="846,10 849,13 853,9" fill="none" stroke="#555" stroke-width="1.3"/><polygon points="866.5,11 872.5,11 869.5,14" fill="#000"/><g shape-rendering="crispEdges"><rect x="878" y="0" width="1" height="23" fill="#A0A0A0"/><rect x="879" y="0" width="1" height="23" fill="#FFFFFF"/><rect x="883" y="2" width="3" height="1" fill="#A8A8A8"/><rect x="883" y="4" width="3" height="1" fill="#A8A8A8"/><rect x="883" y="6" width="3" height="1" fill="#A8A8A8"/><rect x="883" y="8" width="3" height="1" fill="#A8A8A8"/><rect x="883" y="10" width="3" height="1" fill="#A8A8A8"/><rect x="883" y="12" width="3" height="1" fill="#A8A8A8"/><rect x="883" y="14" width="3" height="1" fill="#A8A8A8"/><rect x="883" y="16" width="3" height="1" fill="#A8A8A8"/><rect x="883" y="18" width="3" height="1" fill="#A8A8A8"/><rect x="883" y="20" width="3" height="1" fill="#A8A8A8"/></g><g shape-rendering="crispEdges"><rect x="1029" y="0" width="25" height="21" fill="#F7F7F7"/><rect x="1028" y="1" width="1" height="20" fill="#A0A0A0"/></g><text x="893.5" y="15" font-size="9.5" fill="#333" textLength="13" lengthAdjust="spacingAndGlyphs">M1</text><text x="921.5" y="15" font-size="9.5" fill="#333" textLength="13" lengthAdjust="spacingAndGlyphs">M5</text><text x="947.5" y="15" font-size="9.5" fill="#333" textLength="18" lengthAdjust="spacingAndGlyphs">M15</text><text x="975" y="15" font-size="9.5" fill="#333" textLength="18" lengthAdjust="spacingAndGlyphs">M30</text><text x="1006.5" y="15" font-size="9.5" fill="#333" textLength="12" lengthAdjust="spacingAndGlyphs">H1</text><text x="1033" y="15" font-size="9.5" fill="#333" textLength="13" lengthAdjust="spacingAndGlyphs">H4</text><text x="1062" y="15" font-size="9.5" fill="#333" textLength="13.5" lengthAdjust="spacingAndGlyphs">D1</text><text x="1090" y="15" font-size="9.5" fill="#333" textLength="14" lengthAdjust="spacingAndGlyphs">W1</text><text x="1116.5" y="15" font-size="9.5" fill="#333" textLength="15" lengthAdjust="spacingAndGlyphs">MN</text><g shape-rendering="crispEdges"><rect x="1139" y="0" width="1" height="23" fill="#A0A0A0"/><rect x="1140" y="0" width="1" height="23" fill="#FFFFFF"/></g><circle cx="1609" cy="8" r="4.3" fill="none" stroke="#2F62C9" stroke-width="1.6"/><line x1="1606" y1="11" x2="1601.5" y2="15.5" stroke="#2F62C9" stroke-width="2.2" stroke-linecap="round"/><path d="M1627,13 Q1627,8 1633,8 Q1639,8 1639,13 Q1639,17.5 1633,17.5 L1630,19.5 L1630.5,17 Q1627,16 1627,13 Z" fill="#E4E6EE" stroke="#A8A8B0" stroke-width="0.8"/><circle cx="1640.5" cy="8.5" r="7.5" fill="#DC2A16"/><text x="1637.5" y="12.5" font-size="10" font-weight="bold" fill="#FFFFFF">1</text></svg>
</body></html>
